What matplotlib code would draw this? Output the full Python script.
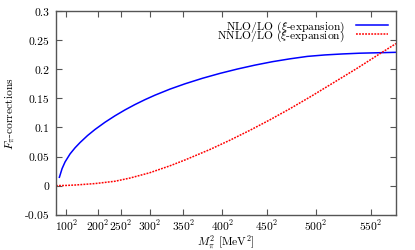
import matplotlib
matplotlib.use('Agg')
import matplotlib.pyplot as plt

plt.rcParams['mathtext.fontset'] = 'cm'
plt.rcParams['font.family'] = ['cmr10', 'DejaVu Serif']
plt.rcParams['axes.unicode_minus'] = False

# M_pi^2 in MeV^2
m2_nlo = [3270, 5860, 8740, 13550, 18350, 23160, 30340, 37570, 47180, 56790,
          66400, 76000, 85620, 95220, 109640, 124050, 140870, 157680, 174500,
          191310, 208130, 224950, 241760, 258580, 275400, 292210, 326800]
nlo = [0.0143, 0.0292, 0.0407, 0.0545, 0.065, 0.074, 0.086, 0.0965, 0.1089, 0.120,
       0.1301, 0.1393, 0.1477, 0.1554, 0.1658, 0.1749, 0.1844, 0.1928, 0.2003,
       0.2070, 0.2129, 0.2178, 0.2220, 0.2245, 0.2262, 0.2275, 0.229]

m2_nnlo = [0, 10000, 18400, 37600, 56800, 71200, 90000, 109600, 124000, 148000,
           167300, 186500, 205700, 224900, 245000, 263400, 290000, 311400, 327000]
nnlo = [0, 0.0003, 0.001, 0.0035, 0.0075, 0.013, 0.022, 0.034, 0.044, 0.062,
        0.078, 0.095, 0.113, 0.132, 0.153, 0.173, 0.202, 0.2265, 0.244]

x_ticks = [100, 200, 250, 300, 350, 400, 450, 500, 550]
y_ticks = [-0.05, 0, 0.05, 0.1, 0.15, 0.2, 0.25, 0.3]
y_labels = ['-0.05', '0', '0.05', '0.1', '0.15', '0.2', '0.25', '0.3']

fs = 8.3
fig = plt.figure(figsize=(4.15, 2.51), dpi=100)
ax = fig.add_axes([0.1349, 0.1406, 0.8193, 0.8116])

ax.plot(m2_nlo, nlo, color='#0000ff', lw=1.1, label=r'NLO/LO ($\xi$-expansion)')
ax.plot(m2_nnlo, nnlo, color='#ff0000', lw=1.1, ls=(0, (1.2, 0.8)),
        label=r'NNLO/LO ($\xi$-expansion)')

ax.set_xlim(0, 327000)
ax.set_ylim(-0.05, 0.3)
ax.set_xticks([v**2 for v in x_ticks])
ax.set_xticklabels([r'$%d^2$' % v for v in x_ticks])
ax.set_yticks(y_ticks)
ax.set_yticklabels(y_labels)
ax.tick_params(direction='in', length=4, width=0.8, color='#555555',
               top=True, right=True, labelsize=fs)
ax.tick_params(axis='x', pad=2)
ax.tick_params(axis='y', pad=5)
for s in ax.spines.values():
    s.set_color('#555555')
    s.set_linewidth(1.0)

ax.set_xlabel(r'$M_\pi^2$ [MeV$^2$]', fontsize=fs, labelpad=0)
ax.set_ylabel(r'$F_\pi$-corrections', fontsize=fs, labelpad=5)

ax.legend(loc='upper right', frameon=False, markerfirst=False, fontsize=fs,
          handlelength=2.8, borderaxespad=0.25, labelspacing=-0.5,
          handletextpad=1.0)

fig.savefig('out.png', dpi=100)
